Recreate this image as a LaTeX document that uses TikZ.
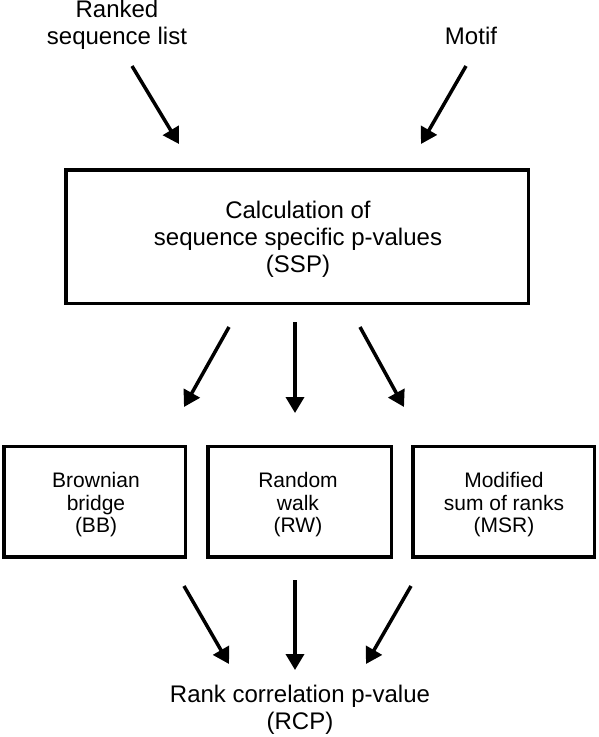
\documentclass[tikz,border=0pt]{standalone}
\usepackage{fontspec}
\setmainfont{Liberation Sans}
\usetikzlibrary{arrows.meta}
\begin{document}
\begin{tikzpicture}[x=1pt,y=-1pt,
  bigtxt/.style={font=\fontsize{24}{27}\selectfont, align=center, inner sep=0pt},
  boxtxt/.style={font=\fontsize{21}{22.5}\selectfont, align=center, inner sep=0pt},
  frame/.style={draw=black, line width=3.5pt, inner sep=0pt},
  arr/.style={line width=3.5pt, -{Triangle[length=16pt,width=18pt]}}]
\useasboundingbox (0,0) rectangle (598,737);
\node[bigtxt] (ranked) at (117,25) {Ranked\\sequence list};
\node[bigtxt] (motif) at (471,36) {Motif};
\node[frame, minimum width=462.5pt, minimum height=133.5pt] (ssp) at (297,236.5) {};
\node[bigtxt] (ssptxt) at (298,239) {Calculation of\\sequence specific p-values\\(SSP)};
\node[frame, minimum width=181.5pt, minimum height=110.5pt] (bb) at (94.5,501.5) {};
\node[boxtxt] (bbtxt) at (96,505) {Brownian\\bridge\\(BB)};
\node[frame, minimum width=183.5pt, minimum height=110.5pt] (rw) at (299.5,501.5) {};
\node[boxtxt] (rwtxt) at (298,505) {Random\\walk\\(RW)};
\node[frame, minimum width=181.5pt, minimum height=110.5pt] (msr) at (503.5,501.5) {};
\node[boxtxt] (msrtxt) at (504,505) {Modified\\sum of ranks\\(MSR)};
\node[bigtxt] (rcp) at (300,710) {Rank correlation p-value\\(RCP)};
% arrow endpoints
\coordinate (a1s) at (132,66);  \coordinate (a1e) at (179,144);
\coordinate (a2s) at (466,66);  \coordinate (a2e) at (421,144);
\coordinate (b1s) at (229,327); \coordinate (b1e) at (184,407);
\coordinate (b2s) at (295,322); \coordinate (b2e) at (295,413);
\coordinate (b3s) at (360,327); \coordinate (b3e) at (404,407);
\coordinate (c1s) at (184,586); \coordinate (c1e) at (229,664);
\coordinate (c2s) at (295,580); \coordinate (c2e) at (295,670);
\coordinate (c3s) at (411,586); \coordinate (c3e) at (366,664);
\draw[arr] (a1s) -- (a1e);
\draw[arr] (a2s) -- (a2e);
\draw[arr] (b1s) -- (b1e);
\draw[arr] (b2s) -- (b2e);
\draw[arr] (b3s) -- (b3e);
\draw[arr] (c1s) -- (c1e);
\draw[arr] (c2s) -- (c2e);
\draw[arr] (c3s) -- (c3e);
\end{tikzpicture}
\end{document}
